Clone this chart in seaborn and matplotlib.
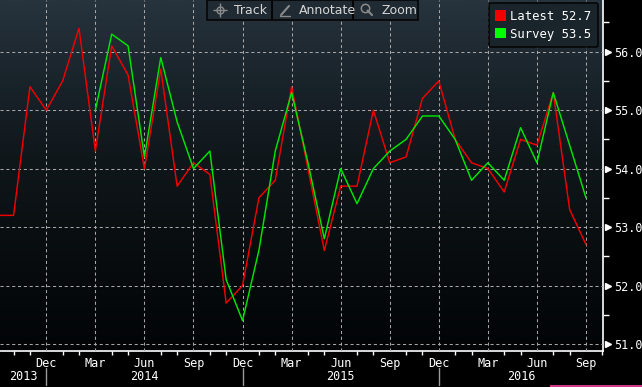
import numpy as np
import pandas as pd
import matplotlib
matplotlib.use("Agg")
import matplotlib.pyplot as plt
import matplotlib.transforms as mtransforms
from matplotlib.patches import Patch, Rectangle
from matplotlib.lines import Line2D
from matplotlib.ticker import FixedLocator
import seaborn as sns

# ---------------- data ----------------
periods = pd.period_range("2013-09", "2016-09", freq="M")
latest = [53.2, 53.2, 55.4, 55.0, 55.5, 56.4, 54.3, 56.1, 55.6, 54.0, 55.7, 53.7,
          54.1, 53.9, 51.7, 52.0, 53.5, 53.8, 55.4, 54.0, 52.6, 53.7, 53.7, 55.0,
          54.1, 54.2, 55.2, 55.5, 54.5, 54.1, 54.0, 53.6, 54.5, 54.4, 55.3, 53.3, 52.7]
survey_start = "2014-03"
survey = [55.0, 56.3, 56.1, 54.2, 55.9, 54.8, 54.0, 54.3, 52.1, 51.4, 52.6, 54.3,
          55.3, 54.1, 52.8, 54.0, 53.4, 54.0, 54.3, 54.5, 54.9, 54.9, 54.5, 53.8,
          54.1, 53.8, 54.7, 54.1, 55.3, 54.4, 53.5]
series_names = ["Latest", "Survey"]
y_ticks = [51.0, 52.0, 53.0, 54.0, 55.0, 56.0]
y_minor = [51.5, 52.5, 53.5, 54.5, 55.5, 56.5]
quarter_months = {12: "Dec", 3: "Mar", 6: "Jun", 9: "Sep"}
years = ["2013", "2014", "2015", "2016"]

RED = "#f20000"
GREEN = "#00e600"

idx = np.arange(len(periods))
survey_full = [np.nan] * (len(periods) - len(survey)) + survey
df = pd.DataFrame({"idx": idx, "Latest": latest, "Survey": survey_full})
long = df.melt(id_vars="idx", value_vars=series_names, var_name="series",
               value_name="value").dropna()

# ---------------- figure ----------------
sns.set_style("dark")
plt.rcParams['font.family'] = ['DejaVu Sans Mono', 'DejaVu Sans']

W, H = 642, 387
fig = plt.figure(figsize=(W / 100, H / 100), dpi=100, facecolor="black")
ax = fig.add_axes([0, 36 / H, 603 / W, 351 / H])
ax.set_facecolor("black")

xlim = (0.17, 37.04)
ylim = (50.88, 56.884)

# gradient background
stops_pos = [0.0, 0.35, 0.55, 0.75, 1.0]
stops_col = np.array([(2, 4, 6), (10, 15, 18), (16, 23, 27), (24, 34, 41), (39, 51, 61)]) / 255
yy = np.linspace(0, 1, 300)
grad = np.stack([np.interp(yy, stops_pos, stops_col[:, c]) for c in range(3)], axis=-1)
grad = grad[:, None, :]
ax.imshow(grad, extent=(0, 1, 0, 1), transform=ax.transAxes, origin="lower",
          aspect="auto", zorder=0, interpolation="bilinear")

sns.lineplot(data=long, x="idx", y="value", hue="series", hue_order=series_names,
             palette={"Latest": RED, "Survey": GREEN}, linewidth=1.05,
             legend=False, ax=ax, zorder=3)

ax.set_xlim(*xlim)
ax.set_ylim(*ylim)
ax.set_xlabel("")
ax.set_ylabel("")

# x ticks (only inside the visible range)
q_idx = [i for i, p in enumerate(periods) if p.month in quarter_months and i > xlim[0]]
q_lab = [quarter_months[periods[i].month] for i in q_idx]
other_idx = [i for i, p in enumerate(periods)
             if p.month not in quarter_months and i > xlim[0]] + [37]
ax.set_xticks(q_idx)
ax.set_xticklabels(q_lab)
ax.xaxis.set_minor_locator(FixedLocator(other_idx))
ax.tick_params(axis="x", which="major", length=0, pad=4, labelsize=8.5,
               labelcolor="white", bottom=True)
ax.tick_params(axis="x", which="minor", length=3, width=1, color="white",
               direction="out", bottom=True)

# y ticks
ax.yaxis.tick_right()
ax.set_yticks(y_ticks)
ax.set_yticklabels([f"{v:.1f}" for v in y_ticks])
ax.yaxis.set_minor_locator(FixedLocator(y_minor))
ax.tick_params(axis="y", which="major", length=0, pad=8, labelsize=8.5,
               labelcolor="white", right=True, left=False)
ax.tick_params(axis="y", which="minor", length=4, width=1, color="white",
               direction="out", right=True, left=False)

ax.grid(True, which="major", color="#a5a5a5", linestyle=(0, (3, 2.6)), linewidth=0.75)
ax.set_axisbelow(False)
for gl in ax.get_xgridlines() + ax.get_ygridlines():
    gl.set_zorder(2)

# triangle markers for major y ticks
tr_y = mtransforms.blended_transform_factory(ax.transAxes, ax.transData)
ax.plot([1.009] * len(y_ticks), y_ticks, linestyle="none", marker=">",
        markersize=5, color="white", transform=tr_y, clip_on=False, zorder=5)

# spines
for s in ["top", "left"]:
    ax.spines[s].set_visible(False)
for s in ["bottom", "right"]:
    ax.spines[s].set_visible(True)
    ax.spines[s].set_color("white")
    ax.spines[s].set_linewidth(1.2)

# year labels and separators
tr_x = mtransforms.blended_transform_factory(ax.transData, ax.transAxes)
dec_idx = [i for i, p in enumerate(periods) if p.month == 12]
bounds = [xlim[0]] + dec_idx + [xlim[1]]
for k, yr in enumerate(years):
    ax.text((bounds[k] + bounds[k + 1]) / 2, -0.072, yr, transform=tr_x,
            ha="center", va="center", color="white", fontsize=8.5)
for d in dec_idx:
    ax.add_line(Line2D([d, d], [-0.048, -0.097], transform=tr_x, color="#9a9a9a",
                       linewidth=1, clip_on=False))

# legend
handles = [Patch(facecolor=RED, edgecolor="none", label=f"Latest {latest[-1]:.1f}"),
           Patch(facecolor="#00ff00", edgecolor="none", label=f"Survey {survey[-1]:.1f}")]
leg = ax.legend(handles=handles, loc="upper right",
                bbox_to_anchor=(598 / 603, 1 - 3 / 351), borderaxespad=0,
                frameon=True, fancybox=True, facecolor="#1a242b", edgecolor="#050505",
                labelcolor="white", prop={"family": "DejaVu Sans Mono", "size": 8.8},
                handlelength=0.9, handleheight=0.9, handletextpad=0.3,
                labelspacing=0.4, borderpad=0.55, framealpha=1)
leg.get_frame().set_linewidth(1.2)
leg.set_zorder(6)

# toolbar
def fx(px):
    return px / W

def fy(py):
    return 1 - py / H

fig.add_artist(Rectangle((fx(207), fy(20)), fx(418) - fx(207), 20 / H,
                         transform=fig.transFigure, facecolor="#1f2a32",
                         edgecolor="#050505", linewidth=1.2, zorder=10))
for xd in [272, 353]:
    fig.add_artist(Line2D([fx(xd), fx(xd)], [fy(1), fy(19)], transform=fig.transFigure,
                          color="#050505", linewidth=1.5, zorder=11))
for xt, txt in [(234, "Track"), (299, "Annotate"), (381, "Zoom")]:
    fig.text(fx(xt), fy(10), txt, ha="left", va="center", color="#d6d6d6",
             fontsize=9, family="DejaVu Sans", zorder=12)
icon_col = "#8a8a8a"
# crosshair
fig.add_artist(Line2D([fx(220)], [fy(10)], marker="+", markersize=10, color=icon_col,
                      markeredgewidth=1, transform=fig.transFigure, zorder=12))
fig.add_artist(Line2D([fx(220)], [fy(10)], marker="o", markersize=5, color=icon_col,
                      markerfacecolor="none", markeredgewidth=1,
                      transform=fig.transFigure, zorder=12))
# pencil
fig.add_artist(Line2D([fx(281), fx(289)], [fy(15), fy(6)], color=icon_col, linewidth=1.5,
                      transform=fig.transFigure, zorder=12))
fig.add_artist(Line2D([fx(280), fx(290)], [fy(15.5), fy(15.5)], color=icon_col, linewidth=1,
                      transform=fig.transFigure, zorder=12))
# magnifier
fig.add_artist(Line2D([fx(365)], [fy(8)], marker="o", markersize=6, color=icon_col,
                      markerfacecolor="none", markeredgewidth=1.1,
                      transform=fig.transFigure, zorder=12))
fig.add_artist(Line2D([fx(367.5), fx(372)], [fy(10.5), fy(15)], color=icon_col, linewidth=1.5,
                      transform=fig.transFigure, zorder=12))

# pink strip bottom right
fig.add_artist(Rectangle((fx(550), 0), fx(642) - fx(550), 2.5 / H,
                         transform=fig.transFigure, facecolor="#d4358c",
                         edgecolor="none", zorder=10))

fig.savefig("out.png", dpi=100, facecolor="black")
